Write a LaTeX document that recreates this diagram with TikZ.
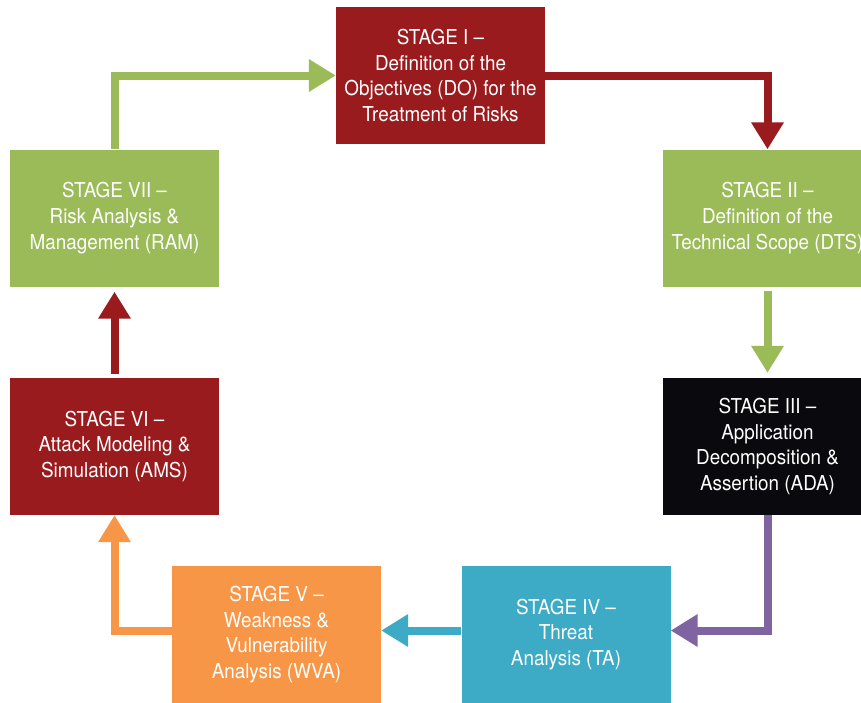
\documentclass[tikz,border=0pt]{standalone}
\usepackage{fontspec}
\setmainfont{TeX Gyre Heros}[FakeStretch=0.92]
\usepackage{xcolor}
\usepackage{tikz}
\usetikzlibrary{arrows.meta}
\definecolor{stagered}{HTML}{991B1E}
\definecolor{stagegreen}{HTML}{9BBB59}
\definecolor{stageblack}{HTML}{0A090E}
\definecolor{stageteal}{HTML}{3EABC6}
\definecolor{stageorange}{HTML}{F79646}
\definecolor{stagepurple}{HTML}{8064A2}
\tikzset{
  stagebox/.style={rectangle, fill=#1, text=white, minimum width=209pt, minimum height=137pt,
    inner sep=0pt, align=center, font=\fontsize{20.5}{25.7}\selectfont},
  flow/.style={line width=8pt, draw=#1, line join=miter, -{Triangle[length=27pt,width=31pt]}}
}
\begin{document}
\begin{tikzpicture}[x=1pt,y=-1pt]
\useasboundingbox (0,0) rectangle (861,702);
\clip (0,0) rectangle (861,702);
\fill[white] (0,0) rectangle (861,702);

% the seven stages
\node[stagebox=stagered]    (s1) at (440.5,75.5) {STAGE I --\\Definition of the\\Objectives (DO) for the\\Treatment of Risks};
\node[stagebox=stagegreen]  (s2) at (767.5,218)  {STAGE II --\\Definition of the\\Technical Scope (DTS)};
\node[stagebox=stageblack]  (s3) at (767.5,446.5) {STAGE III --\\Application\\Decomposition \&\\Assertion (ADA)};
\node[stagebox=stageteal]   (s4) at (566,634.5)  {STAGE IV --\\Threat\\Analysis (TA)};
\node[stagebox=stageorange] (s5) at (276.5,634.5) {STAGE V --\\Weakness \&\\Vulnerability\\Analysis (WVA)};
\node[stagebox=stagered]    (s6) at (114.5,446.5) {STAGE VI --\\Attack Modeling \&\\Simulation (AMS)};
\node[stagebox=stagegreen]  (s7) at (114.5,218)  {STAGE VII --\\Risk Analysis \&\\Management (RAM)};

% arrows round the cycle
\draw[flow=stagered] (s1.east) -| (s2.north);
\draw[flow=stagegreen, shorten <=4pt, shorten >=5pt] (s2.south) -- (s3.north);
\draw[flow=stagepurple] (s3.south) |- ([yshift=4pt]s4.east);
\draw[flow=stageteal] ([yshift=4pt]s4.west) -- ([yshift=4pt]s5.east);
\draw[flow=stageorange] ([yshift=4pt]s5.west) -| (s6.south);
\draw[flow=stagered, shorten <=4pt, shorten >=5pt] (s6.north) -- (s7.south);
\draw[flow=stagegreen] (s7.north) |- (s1.west);
\end{tikzpicture}
\end{document}
